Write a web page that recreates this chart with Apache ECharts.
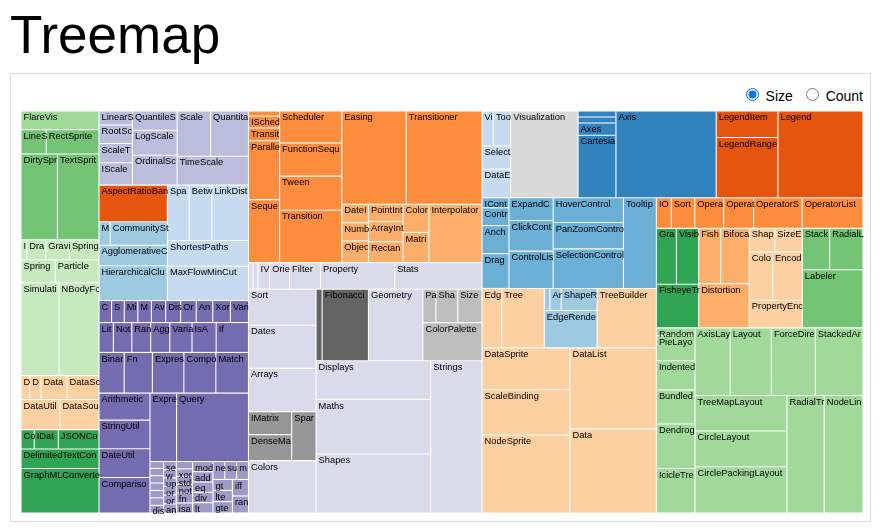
<!DOCTYPE html>
<html>
<head>
<meta charset="utf-8">
<script src="https://cdn.jsdelivr.net/npm/echarts@6/dist/echarts.min.js"></script>
<style>
  html, body { margin: 0; padding: 0; background: #fff; width: 880px; height: 532px; overflow: hidden; }
  body { position: relative; font-family: Arial, "Liberation Sans", sans-serif; }
  #title { position: absolute; left: 10px; top: 8px; font-size: 53px; line-height: 53px; color: #000; white-space: nowrap; }
  #frame { position: absolute; left: 10px; top: 73px; width: 859px; height: 447px; border: 1px solid #ddd; }
  #modes { position: absolute; right: 17px; top: 85px; font-size: 14px; color: #000; white-space: nowrap; }
  #modes label { margin-left: 4px; }
  #chart { position: absolute; left: 0; top: 0; width: 880px; height: 532px; }
</style>
</head>
<body>
<div id="title">Treemap</div>
<div id="frame"></div>
<div id="modes"><label><input type="radio" name="mode" value="size" checked> Size</label> <label><input type="radio" name="mode" value="count"> Count</label></div>
<div id="chart"></div>
<script>
// ---- data: flare class hierarchy, leaf = [name, size], package = [name, childArray] ----
const cluster = [["AgglomerativeCluster", 3938], ["CommunityStructure", 3812], ["HierarchicalCluster", 6714], ["MergeEdge", 743]];
const graph = [["BetweennessCentrality", 3534], ["LinkDistance", 5731], ["MaxFlowMinCut", 7840], ["ShortestPaths", 5914], ["SpanningTree", 3416]];
const optimization = [["AspectRatioBanker", 7074]];
const analytics = [["cluster", cluster], ["graph", graph], ["optimization", optimization]];

const interpolate = [["ArrayInterpolator", 1983], ["ColorInterpolator", 2047], ["DateInterpolator", 1375], ["Interpolator", 8746], ["MatrixInterpolator", 2202], ["NumberInterpolator", 1382], ["ObjectInterpolator", 1629], ["PointInterpolator", 1675], ["RectangleInterpolator", 2042]];
const animate = [["Easing", 17010], ["FunctionSequence", 5842], ["interpolate", interpolate], ["ISchedulable", 1041], ["Parallel", 5176], ["Pause", 449], ["Scheduler", 5593], ["Sequence", 5534], ["Transition", 9201], ["Transitioner", 19975], ["TransitionEvent", 1116], ["Tween", 6006]];

const converters = [["Converters", 721], ["DelimitedTextConverter", 4294], ["GraphMLConverter", 9800], ["IDataConverter", 1314], ["JSONConverter", 2220]];
const dataPkg = [["converters", converters], ["DataField", 1759], ["DataSchema", 2165], ["DataSet", 586], ["DataSource", 3331], ["DataTable", 772], ["DataUtil", 3322]];

const display = [["DirtySprite", 8833], ["LineSprite", 1732], ["RectSprite", 3623], ["TextSprite", 10066]];
const flex = [["FlareVis", 4116]];
const physics = [["DragForce", 1082], ["GravityForce", 1336], ["IForce", 319], ["NBodyForce", 10498], ["Particle", 2822], ["Simulation", 9983], ["Spring", 2213], ["SpringForce", 1681]];

const methods = [["add", 593], ["and", 330], ["average", 287], ["count", 277], ["distinct", 292], ["div", 595], ["eq", 594], ["fn", 460], ["gt", 603], ["gte", 625], ["iff", 748], ["isa", 461], ["lt", 597], ["lte", 619], ["max", 283], ["min", 283], ["mod", 591], ["mul", 603], ["neq", 599], ["not", 386], ["or", 323], ["orderby", 307], ["range", 772], ["select", 296], ["stddev", 363], ["sub", 600], ["sum", 280], ["update", 307], ["variance", 335], ["where", 299], ["xor", 354], ["_", 264]];
const query = [["AggregateExpression", 1616], ["And", 1027], ["Arithmetic", 3891], ["Average", 891], ["BinaryExpression", 2893], ["Comparison", 5103], ["CompositeExpression", 3677], ["Count", 781], ["DateUtil", 4141], ["Distinct", 933], ["Expression", 5130], ["ExpressionIterator", 3617], ["Fn", 3240], ["If", 2732], ["IsA", 2039], ["Literal", 1214], ["Match", 3748], ["Maximum", 843], ["methods", methods], ["Minimum", 843], ["Not", 1554], ["Or", 970], ["Query", 13896], ["Range", 1594], ["StringUtil", 4130], ["Sum", 791], ["Variable", 1124], ["Variance", 1876], ["Xor", 1101]];

const scale = [["IScaleMap", 2105], ["LinearScale", 1316], ["LogScale", 3151], ["OrdinalScale", 3770], ["QuantileScale", 2435], ["QuantitativeScale", 4839], ["RootScale", 1756], ["Scale", 4268], ["ScaleType", 1821], ["TimeScale", 5833]];

const heap = [["FibonacciHeap", 9354], ["HeapNode", 1233]];
const math = [["DenseMatrix", 3165], ["IMatrix", 2815], ["SparseMatrix", 3366]];
const palette = [["ColorPalette", 6367], ["Palette", 1229], ["ShapePalette", 2059], ["SizePalette", 2291]];
const util = [["Arrays", 8258], ["Colors", 10001], ["Dates", 8217], ["Displays", 12555], ["Filter", 2324], ["Geometry", 10993], ["heap", heap], ["IEvaluable", 335], ["IPredicate", 383], ["IValueProxy", 874], ["math", math], ["Maths", 17705], ["Orientation", 1486], ["palette", palette], ["Property", 5559], ["Shapes", 19118], ["Sort", 6887], ["Stats", 6557], ["Strings", 22026]];

const axis = [["Axes", 1302], ["Axis", 24593], ["AxisGridLine", 652], ["AxisLabel", 636], ["CartesianAxes", 6703]];
const controls = [["AnchorControl", 2138], ["ClickControl", 3824], ["Control", 1353], ["ControlList", 4665], ["DragControl", 2649], ["ExpandControl", 2832], ["HoverControl", 4896], ["IControl", 763], ["PanZoomControl", 5222], ["SelectionControl", 7862], ["TooltipControl", 8435]];
const render = [["ArrowType", 698], ["EdgeRenderer", 5569], ["IRenderer", 353], ["ShapeRenderer", 2247]];
const visData = [["Data", 20544], ["DataList", 19788], ["DataSprite", 10349], ["EdgeSprite", 3301], ["NodeSprite", 19382], ["render", render], ["ScaleBinding", 11275], ["Tree", 7147], ["TreeBuilder", 9930]];
const events = [["DataEvent", 2313], ["SelectionEvent", 1880], ["TooltipEvent", 1701], ["VisualizationEvent", 1117]];
const legend = [["Legend", 20859], ["LegendItem", 4614], ["LegendRange", 10530]];
const distortion = [["BifocalDistortion", 4461], ["Distortion", 6314], ["FisheyeDistortion", 3444]];
const encoder = [["ColorEncoder", 3179], ["Encoder", 4060], ["PropertyEncoder", 4138], ["ShapeEncoder", 1690], ["SizeEncoder", 1830]];
const filter = [["FisheyeTreeFilter", 5219], ["GraphDistanceFilter", 3165], ["VisibilityFilter", 3509]];
const label = [["Labeler", 9956], ["RadialLabeler", 3899], ["StackedAreaLabeler", 3202]];
const layout = [["AxisLayout", 6725], ["BundledEdgeRouter", 3727], ["CircleLayout", 9317], ["CirclePackingLayout", 12003], ["DendrogramLayout", 4853], ["ForceDirectedLayout", 8411], ["IcicleTreeLayout", 4864], ["IndentedTreeLayout", 3174], ["Layout", 7881], ["NodeLinkTreeLayout", 12870], ["PieLayout", 2728], ["RadialTreeLayout", 12348], ["RandomLayout", 870], ["StackedAreaLayout", 9121], ["TreeMapLayout", 9191]];
const operator = [["distortion", distortion], ["encoder", encoder], ["filter", filter], ["IOperator", 1286], ["label", label], ["layout", layout], ["Operator", 2490], ["OperatorList", 5248], ["OperatorSequence", 4190], ["OperatorSwitch", 2581], ["SortOperator", 2023]];
const vis = [["axis", axis], ["controls", controls], ["data", visData], ["events", events], ["legend", legend], ["operator", operator], ["Visualization", 16540]];

const flare = [["analytics", analytics], ["animate", animate], ["data", dataPkg], ["display", display], ["flex", flex], ["physics", physics], ["query", query], ["scale", scale], ["util", util], ["vis", vis]];

// category20c palette, assigned to package names in order of first appearance
const palette20c = ["#3182bd", "#6baed6", "#9ecae1", "#c6dbef", "#e6550d", "#fd8d3c", "#fdae6b", "#fdd0a2", "#31a354", "#74c476", "#a1d99b", "#c7e9c0", "#756bb1", "#9e9ac8", "#bcbddc", "#dadaeb", "#636363", "#969696", "#bdbdbd", "#d9d9d9"];

// ---- build the tree ----
const colorIndex = {};
let nextColor = 0;
function colorOf(name) {
  if (!(name in colorIndex)) colorIndex[name] = nextColor++;
  return palette20c[colorIndex[name] % palette20c.length];
}
colorOf("flare");

function build(name, arr) {
  const color = colorOf(name);
  const node = { name: name, children: [] };
  const kids = arr.map(function (d) {
    if (Array.isArray(d[1])) return build(d[0], d[1]);
    return { name: d[0], value: d[1], itemStyle: { color: color, borderColor: '#fff', borderWidth: 0.55 } };
  });
  // smallest first; equal values in reverse of original order
  node.children = kids.slice().reverse().sort(function (a, b) { return a.value - b.value; });
  node.value = node.children.reduce(function (s, c) { return s + c.value; }, 0);
  return node;
}
const root = build("flare", flare);

const chart = echarts.init(document.getElementById('chart'), null, { renderer: 'canvas' });
chart.setOption({
  animation: false,
  series: [{
    type: 'treemap',
    left: 21, top: 111, width: 842, height: 402,
    data: root.children,
    sort: false,
    squareRatio: 0.5 * (1 + Math.sqrt(5)),
    roam: false,
    nodeClick: false,
    breadcrumb: { show: false },
    visibleMin: 0,
    leafDepth: null,
    silent: true,
    itemStyle: { borderWidth: 0, gapWidth: 0, borderColor: '#fff' },
    upperLabel: { show: false },
    label: {
      show: true,
      position: 'insideTopLeft',
      distance: 0,
      padding: [5.5, -3, 0, 2],
      color: '#000',
      fontSize: 9.3,
      lineHeight: 1,
      fontFamily: 'Arial, "Liberation Sans", sans-serif',
      overflow: 'truncate',
      ellipsis: ''
    },
    levels: [
      { itemStyle: { borderWidth: 0, gapWidth: 0 } },
      { itemStyle: { borderWidth: 0, gapWidth: 0 } },
      { itemStyle: { borderWidth: 0, gapWidth: 0 } },
      { itemStyle: { borderWidth: 0, gapWidth: 0 } },
      { itemStyle: { borderWidth: 0, gapWidth: 0 } }
    ]
  }]
});
</script>
</body>
</html>
